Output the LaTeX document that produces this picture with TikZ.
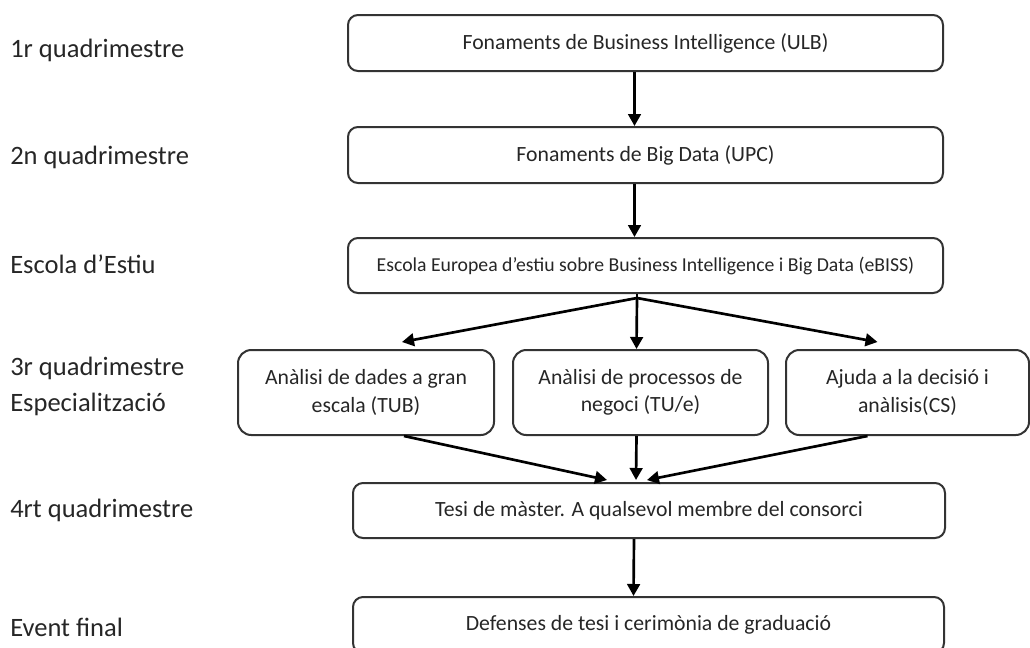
\documentclass[tikz,border=0pt]{standalone}
\usepackage{fontspec}
\setmainfont{Carlito}
\usetikzlibrary{arrows.meta,calc}
\definecolor{edge}{HTML}{333333}
\definecolor{ink}{HTML}{262626}
\begin{document}
\begin{tikzpicture}[x=0.75pt,y=-0.75pt,
    box/.style={draw=edge,line width=1.5pt,rounded corners=7.5pt,inner sep=0pt,text=ink,
      font=\fontsize{16.3}{19.5}\selectfont},
    course/.style={box,rounded corners=10pt,minimum height=63.75pt,align=center,
      font=\fontsize{16.3}{20.5}\selectfont},
    lbl/.style={anchor=west,inner sep=0pt,text=ink,align=left,
      font=\fontsize{19.9}{27}\selectfont},
    arr/.style={-{Triangle[length=9pt,width=9.5pt]},line width=2pt}]
  \useasboundingbox (0,0) rectangle (1030,647);
  \clip (0,0) rectangle (1030,647);
  % period labels
  \node[lbl] (q1) at (10,50) {1r quadrimestre};
  \node[lbl] (q2) at (10,157) {2n quadrimestre};
  \node[lbl] (summer) at (10,264) {Escola d’Estiu};
  \node[lbl] (q3) at (10,386) {3r quadrimestre\\Especialització};
  \node[lbl] (q4) at (10,510) {4rt quadrimestre};
  \node[lbl] (final) at (10,627) {Event final};
  % main boxes
  \node[box,minimum width=446.25pt,minimum height=42pt] (fbi) at (645.5,43)
    {Fonaments de Business Intelligence (ULB)};
  \node[box,minimum width=446.25pt,minimum height=42pt] (fbd) at (645.5,155)
    {Fonaments de Big Data (UPC)};
  \node[box,minimum width=446.25pt,minimum height=41.25pt,
    font=\fontsize{14.8}{17}\selectfont] (ebiss) at (645.5,265.5)
    {Escola Europea d’estiu sobre Business Intelligence i Big Data (eBISS)};
  % specialisations
  \node[course,minimum width=192pt] (tub) at (366,392.5)
    {Anàlisi de dades a gran\\escala (TUB)};
  \node[course,minimum width=191.25pt] (tue) at (640.5,392.5)
    {Anàlisi de processos de\\negoci (TU/e)};
  \node[course,minimum width=182.25pt] (cs) at (907.5,392.5)
    {Ajuda a la decisió i\\anàlisis(CS)};
  \node[box,minimum width=444pt,minimum height=41.25pt] (tesi) at (649,510.5)
    {Tesi de màster. A qualsevol membre del consorci};
  \node[box,minimum width=443.25pt,minimum height=42pt] (def) at (648.5,625)
    {Defenses de tesi i cerimònia de graduació};
  % arrows
  \coordinate (split) at ($(ebiss.south)+(-8.5,4)$);
  \draw[arr] ($(fbi.south)+(-11,0)$) -- ($(fbd.north)+(-11,0)$);
  \draw[arr] ($(fbd.south)+(-11,0)$) -- ($(ebiss.north)+(-11,0)$);
  \draw[line width=2pt] ($(ebiss.south)+(-8.5,0)$) -- (split);
  \draw[arr] (split) -- ($(tub.north)+(36,-7)$);
  \draw[arr] (split) -- ($(tue.north)+(-4,0)$);
  \draw[arr] (split) -- ($(cs.north)+(-30,-7)$);
  \draw[arr] ($(tub.south)+(38,0)$) -- ($(tesi.north)+(-42,-2)$);
  \draw[arr] ($(tue.south)+(-4,0)$) -- ($(tesi.north)+(-13,-2)$);
  \draw[arr] ($(cs.south)+(-40,0)$) -- ($(tesi.north)+(-2,-2)$);
  \draw[arr] ($(tesi.south)+(-15,0)$) -- ($(def.north)+(-15,0)$);
\end{tikzpicture}
\end{document}
